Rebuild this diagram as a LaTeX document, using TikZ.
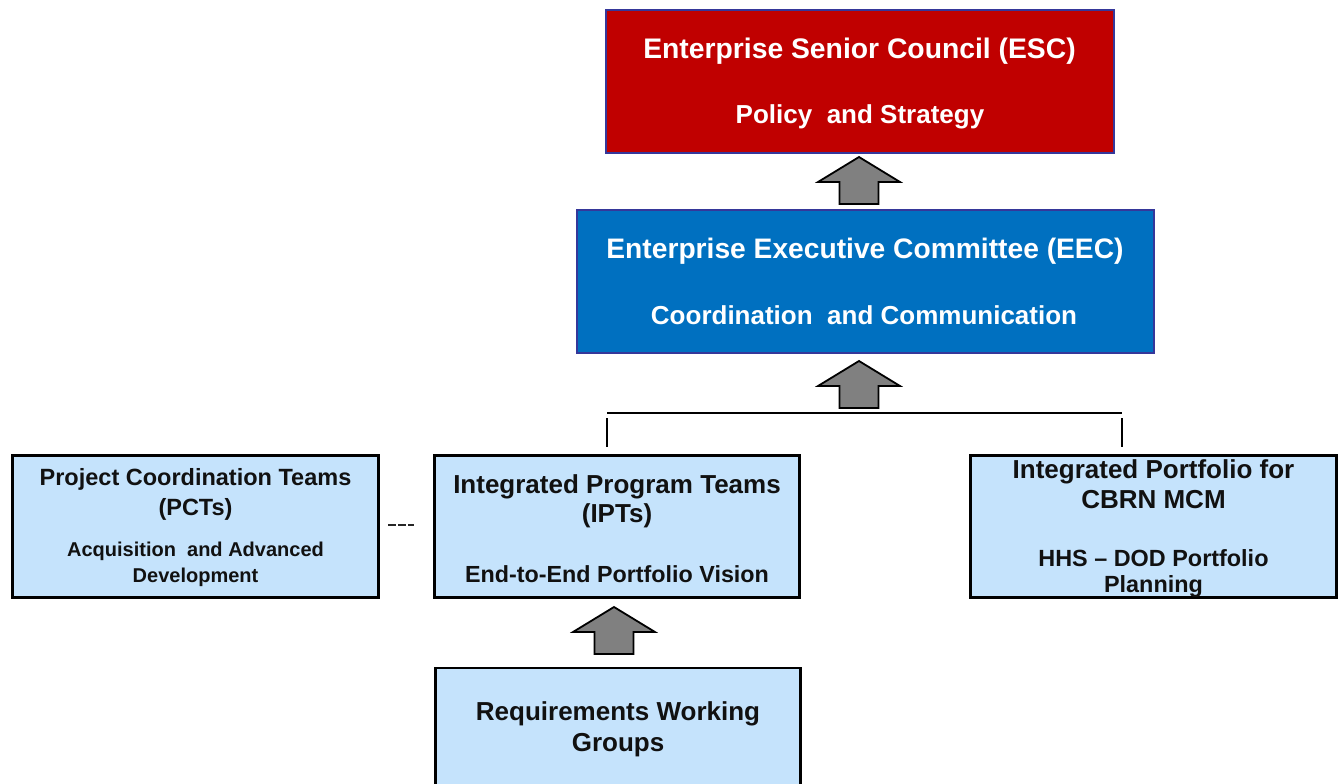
\documentclass[tikz,border=0pt]{standalone}
\usepackage{fontspec}
\setmainfont{Liberation Sans}
\usetikzlibrary{calc}

\definecolor{escred}{HTML}{C00000}
\definecolor{eecblue}{HTML}{0070C0}
\definecolor{teamblue}{HTML}{C5E3FC}
\definecolor{navyedge}{HTML}{35379A}
\definecolor{arrowgray}{HTML}{808080}
\definecolor{inkdark}{HTML}{111111}

% bold text at a given size (in pt)
\newcommand\bfsz[1]{\fontsize{#1pt}{#1pt}\selectfont\bfseries}

\tikzset{
  darkbox/.style={draw=navyedge, line width=2pt, inner sep=0pt, rectangle},
  lightbox/.style={draw=black, fill=teamblue, line width=2.2pt, inner sep=0pt, rectangle},
  boxtext/.style={anchor=base, inner sep=0pt, text=inkdark},
  headtext/.style={anchor=base, inner sep=0pt, text=white},
  blockarrow/.style={fill=arrowgray, draw=black, line width=1.8pt, line join=miter},
  bus/.style={draw=black, line width=2pt},
  dashrel/.style={draw=black!85, line width=2.7pt, dash pattern=on 7.7pt off 2.3pt},
  pics/uparrow/.style={code={
    \draw[blockarrow] (0,-23.5) -- (41,1.5) -- (19.5,1.5) -- (19.5,23.5)
      -- (-19.5,23.5) -- (-19.5,1.5) -- (-41,1.5) -- cycle;}}
}

\begin{document}
\begin{tikzpicture}[x=1pt,y=-1pt]
\clip (0,0) rectangle (1342,784);
\fill[white] (0,0) rectangle (1342,784);

% --- Enterprise Senior Council
\node[darkbox, fill=escred, minimum width=508pt, minimum height=142pt] (esc) at (859.5,81.5) {};
\node[headtext, font=\bfsz{28.3}] (esc-title) at (859.5,59) {Enterprise Senior Council (ESC)};
\node[headtext, font=\bfsz{26}] (esc-role) at (860,124) {Policy\ \ and Strategy};

% --- Enterprise Executive Committee
\node[darkbox, fill=eecblue, minimum width=577pt, minimum height=143pt] (eec) at (865,281) {};
\node[headtext, font=\bfsz{28.2}] (eec-title) at (865,258.5) {Enterprise Executive Committee (EEC)};
\node[headtext, font=\bfsz{26}] (eec-role) at (864,324) {Coordination\ \ and Communication};

% --- Project Coordination Teams
\node[lightbox, minimum width=366pt, minimum height=142pt] (pct) at (195.5,526.5) {};
\node[boxtext, font=\bfsz{23.5}] (pct-t1) at (195.5,485.7) {Project Coordination Teams};
\node[boxtext, font=\bfsz{23.5}] (pct-t2) at (195.5,515) {(PCTs)};
\node[boxtext, font=\bfsz{20}] (pct-t3) at (195.5,556.7) {Acquisition\ \ and Advanced};
\node[boxtext, font=\bfsz{20}] (pct-t4) at (195.5,582.7) {Development};

% --- Integrated Program Teams
\node[lightbox, minimum width=365pt, minimum height=142pt] (ipt) at (617,526.5) {};
\node[boxtext, font=\bfsz{26}] (ipt-t1) at (617,493.3) {Integrated Program Teams};
\node[boxtext, font=\bfsz{26}] (ipt-t2) at (617,522.5) {(IPTs)};
\node[boxtext, font=\bfsz{23.3}] (ipt-t3) at (617,582) {End-to-End Portfolio Vision};

% --- Integrated Portfolio for CBRN MCM
\node[lightbox, minimum width=366pt, minimum height=142pt] (cbrn) at (1153.5,526.5) {};
\node[boxtext, font=\bfsz{26}] (cbrn-t1) at (1153.5,478.3) {Integrated Portfolio for};
\node[boxtext, font=\bfsz{26}] (cbrn-t2) at (1153.5,508.3) {CBRN MCM};
\node[boxtext, font=\bfsz{23.4}] (cbrn-t3) at (1153.5,566.7) {HHS -- DOD Portfolio};
\node[boxtext, font=\bfsz{23.4}] (cbrn-t4) at (1153.5,592) {Planning};

% --- Requirements Working Groups (runs past the lower edge)
\node[lightbox, minimum width=365pt, minimum height=140pt] (rwg) at (618,738) {};
\node[boxtext, font=\bfsz{26}] (rwg-t1) at (618,720.7) {Requirements Working};
\node[boxtext, font=\bfsz{26}] (rwg-t2) at (618,751) {Groups};

% --- upward block arrows
\pic at (859,180.5) {uparrow};
\pic at (859,384.5) {uparrow};
\pic at (614,630.5) {uparrow};

% --- bus joining IPTs and the CBRN portfolio
\coordinate (busL) at (607,413);
\coordinate (busR) at (1122,413);
\draw[bus] (busL) -- (busR);
\draw[bus] ($(busL)+(0,5)$) -- ($(busL |- ipt.north)+(0,-7)$);
\draw[bus] ($(busR)+(0,5)$) -- ($(busR |- cbrn.north)+(0,-7)$);

% --- dashed link between PCTs and IPTs
\draw[dashrel, shorten <=8.5pt, shorten >=19.5pt]
  ([yshift=1.5pt]pct.east) -- ([yshift=1.5pt]ipt.west);
\end{tikzpicture}
\end{document}
